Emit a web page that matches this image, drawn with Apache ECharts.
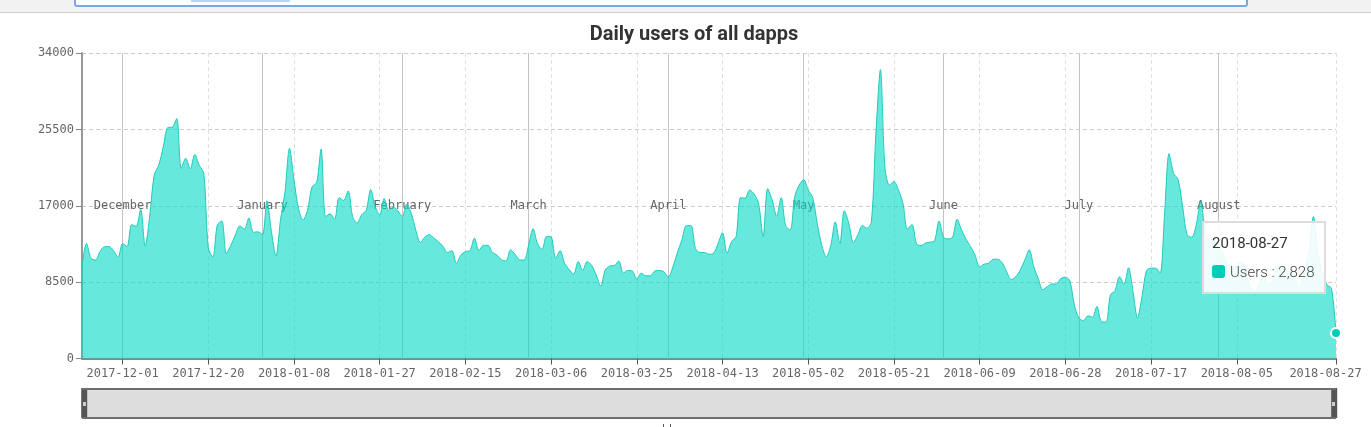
<!DOCTYPE html>
<html>
<head>
<meta charset="utf-8">
<title>Daily users of all dapps</title>
<script src="https://cdn.jsdelivr.net/npm/echarts@6/dist/echarts.min.js"></script>
<style>
html, body { margin: 0; padding: 0; background: #fff; }
#main { width: 1371px; height: 427px; }
</style>
</head>
<body>
<div id="main"></div>
<script>
const firstDay = '2017-11-22'
const yTicks = [0, 8500, 17000, 25500, 34000]
const tickDates = ['2017-12-01', '2017-12-20', '2018-01-08', '2018-01-27', '2018-02-15', '2018-03-06', '2018-03-25',
    '2018-04-13', '2018-05-02', '2018-05-21', '2018-06-09', '2018-06-28', '2018-07-17', '2018-08-05', '2018-08-27']
const monthDates = ['2017-12-01', '2018-01-01', '2018-02-01', '2018-03-01', '2018-04-01', '2018-05-01', '2018-06-01', '2018-07-01', '2018-08-01']
const monthNames = ['December', 'January', 'February', 'March', 'April', 'May', 'June', 'July', 'August']

// 每日用户数, 估计值
const users = [
    10300, 12800, 11150, 10960, 11900, 12450, 12450, 12000, 11260, 12800,
    12450, 14900, 14700, 16600, 12500, 15800, 20400, 21500, 23500, 25700,
    25750, 26700, 21150, 22300, 21100, 22700, 21500, 20600, 12300, 11300,
    14850, 15300, 11700, 12600, 13750, 14750, 14400, 15650, 14050, 14100,
    13800, 17550, 14100, 11400, 15400, 18550, 23400, 19850, 16700, 15400,
    16500, 19100, 19550, 23300, 15800, 16100, 15500, 17900, 17600, 18650,
    15800, 15100, 16000, 16500, 18800, 16900, 16000, 17800, 16450, 16900,
    16450, 15800, 17200, 16150, 14300, 12900, 13500, 13800, 13400, 13000,
    12500, 11800, 12000, 10600, 11500, 11900, 12000, 13400, 12000, 12600,
    12600, 11800, 11500, 11000, 10850, 12100, 11600, 11000, 10950, 12600,
    14450, 12750, 12150, 13600, 13550, 11150, 12000, 10600, 9900, 9400,
    10800, 9800, 10800, 10350, 9300, 8050, 9850, 10300, 10350, 10850,
    9500, 9800, 9750, 8850, 9500, 9200, 9200, 9750, 9800, 9650,
    9050, 10200, 11800, 13200, 14800, 14800, 12250, 11800, 11800, 11600,
    11700, 12800, 14000, 11700, 13000, 13550, 17900, 17850, 18750, 18300,
    17250, 13550, 18900, 17650, 15850, 17900, 14750, 14300, 18000, 19300,
    19900, 18750, 17900, 15050, 12600, 11300, 12600, 15200, 12800, 16450,
    15050, 12900, 13750, 14800, 14500, 15200, 25000, 32150, 21300, 19300,
    19700, 18750, 17250, 14400, 14900, 12800, 12550, 12850, 12950, 13100,
    15300, 13500, 13300, 13500, 15500, 14300, 13250, 12450, 11500, 10200,
    10500, 10600, 11050, 11050, 10650, 9650, 8800, 9100, 9850, 10950,
    12100, 10200, 8900, 7650, 8000, 8300, 8300, 8900, 9050, 8650,
    5950, 4500, 4200, 4750, 4600, 5800, 4100, 4050, 7100, 7550,
    9100, 8300, 10100, 7450, 4500, 6900, 9800, 10050, 10050, 9500,
    16150, 22800, 20600, 19900, 16900, 13750, 13500, 14850, 17450, 14300,
    13190, 13190, 12800, 11700, 10400, 9850, 10400, 10800, 9650, 8000,
    7170, 8400, 9050, 8200, 8750, 10050, 10400, 9850, 9650, 8750,
    8000, 9850, 11900, 15800, 11700, 9500, 8200, 7800, 2828
]

const MONO = '"DejaVu Sans Mono", "Liberation Mono", monospace'
const AREA = { color: '#00d8c4', opacity: 0.6 }
const LINE = { color: '#1fc9b9', width: 1 }

function buildDates(start, count) {
    let dates = []
    let day = new Date(start + 'T00:00:00Z')
    for (let i = 0; i < count; i++) {
        dates.push(day.toISOString().slice(0, 10))
        day.setUTCDate(day.getUTCDate() + 1)
    }
    return dates
}

const categories = buildDates(firstDay, users.length)
const isTick = (index, name) => tickDates.includes(name)
const lastIndex = users.length - 1

// 浏览器地址栏残留 + 滑块的边框和小把手
function chromeGraphics() {
    return [
        { type: 'rect', shape: { x: 0, y: 0, width: 1371, height: 12 }, style: { fill: '#f2f2f2' } },
        { type: 'rect', shape: { x: 0, y: 12, width: 1371, height: 1 }, style: { fill: '#cfcfcf' } },
        { type: 'rect', shape: { x: 75, y: -4, width: 1172, height: 10, r: 2 }, style: { fill: '#fff', stroke: '#7aa7e6', lineWidth: 2 } },
        { type: 'rect', shape: { x: 191, y: 0, width: 99, height: 2 }, style: { fill: '#b5d5fb' } },
        { type: 'rect', shape: { x: 82, y: 388, width: 1254, height: 2 }, style: { fill: '#6e6e6e' }, z: 100 },
        { type: 'rect', shape: { x: 82, y: 417, width: 1254, height: 2 }, style: { fill: '#6e6e6e' }, z: 100 },
        { type: 'rect', shape: { x: 83, y: 402, width: 3, height: 4 }, style: { fill: '#ccc' }, z: 100 },
        { type: 'rect', shape: { x: 1332, y: 402, width: 3, height: 4 }, style: { fill: '#ccc' }, z: 100 },
        { type: 'rect', shape: { x: 663, y: 424, width: 1, height: 3 }, style: { fill: '#555' } },
        { type: 'rect', shape: { x: 670, y: 424, width: 1, height: 3 }, style: { fill: '#555' } }
    ]
}

let chart = echarts.init(document.getElementById('main'))

chart.setOption({
    animation: false,
    title: {
        text: 'Daily users of all dapps',
        left: 689,
        top: 20,
        textAlign: 'center',
        textStyle: { fontFamily: 'Roboto', fontSize: 20, fontWeight: 'bold', color: '#333' }
    },
    graphic: chromeGraphics(),
    grid: { left: 82, right: 35, top: 53, bottom: 68.5, outerBoundsMode: 'none' },
    tooltip: {
        trigger: 'axis',
        axisPointer: { type: 'none' },
        transitionDuration: 0,
        position: [1202, 221],
        padding: 0,
        backgroundColor: 'rgba(255,255,255,0.9)',
        borderColor: '#ddd',
        borderWidth: 0,
        extraCssText: 'box-shadow:none;border-radius:0;',
        formatter: params => {
            let p = params[0]
            return `<div style="box-sizing:border-box;width:124px;height:73px;border:2px solid #ddd;padding:7px 8px;font-family:Roboto;">`
                + `<div style="font-size:15px;line-height:26px;color:#333;">${p.name}</div>`
                + `<div style="font-size:15px;font-weight:300;line-height:26px;color:#444;margin-top:3px;">`
                + `<span style="display:inline-block;width:13px;height:13px;border-radius:3px;background:#00cdb9;margin-right:5px;vertical-align:-1px;"></span>`
                + `Users : ${p.value.toLocaleString('en-US')}</div></div>`
        }
    },
    xAxis: {
        type: 'category',
        boundaryGap: false,
        data: categories,
        axisLine: { lineStyle: { color: '#888', width: 2 } },
        axisTick: { interval: isTick, length: 6, lineStyle: { color: '#555' } },
        axisLabel: {
            interval: isTick,
            hideOverlap: false,
            margin: 9,
            fontFamily: MONO,
            fontSize: 12,
            color: '#666',
            // 最后一个标签在原图里往左偏
            formatter: value => value === categories[lastIndex] ? `{last|${value}}` : value,
            rich: { last: { fontFamily: MONO, fontSize: 12, color: '#666', padding: [0, 21, 0, 0] } }
        },
        splitLine: { show: true, interval: isTick, lineStyle: { type: [4, 3], color: '#e0e0e0' } }
    },
    yAxis: {
        type: 'value',
        min: yTicks[0],
        max: yTicks[yTicks.length - 1],
        interval: yTicks[1],
        axisLine: { show: true, lineStyle: { color: '#999', width: 2 } },
        axisTick: { show: true, length: 6, lineStyle: { color: '#888' } },
        axisLabel: { margin: 8, padding: [4, 0, 0, 0], fontFamily: MONO, fontSize: 12, color: '#666', formatter: value => String(value) },
        splitLine: { show: true, lineStyle: { type: [4, 3], color: '#ccc' } }
    },
    dataZoom: [{
        type: 'slider',
        left: 83,
        right: 36,
        top: 388,
        height: 30,
        showDetail: false,
        showDataShadow: false,
        brushSelect: false,
        moveHandleSize: 0,
        backgroundColor: '#ddd',
        fillerColor: '#ddd',
        borderColor: '#777',
        borderRadius: 0,
        handleIcon: 'path://M0 0H6V30H0Z',
        handleSize: '100%',
        handleStyle: { color: '#555', borderColor: '#555', borderWidth: 0 }
    }],
    series: [{
        name: 'Users',
        type: 'line',
        z: 3,
        data: users,
        smooth: 0.3,
        showSymbol: false,
        symbol: 'circle',
        symbolSize: 10,
        itemStyle: { color: '#00cdb9', borderColor: '#fff', borderWidth: 2 },
        lineStyle: LINE,
        areaStyle: AREA,
        emphasis: { scale: false, lineStyle: LINE, areaStyle: AREA },
        markLine: {
            silent: true,
            z: 1,
            symbol: 'none',
            animation: false,
            lineStyle: { type: 'solid', color: '#c4c4c4', width: 1 },
            label: { position: 'middle', rotate: 0, distance: 0, align: 'center', verticalAlign: 'middle', formatter: '{b}', fontFamily: MONO, fontSize: 12, color: '#666' },
            emphasis: { disabled: true },
            data: monthDates.map((d, i) => ({ name: monthNames[i], xAxis: d }))
        }
    }]
})

chart.dispatchAction({ type: 'showTip', seriesIndex: 0, dataIndex: lastIndex })
</script>
</body>
</html>
